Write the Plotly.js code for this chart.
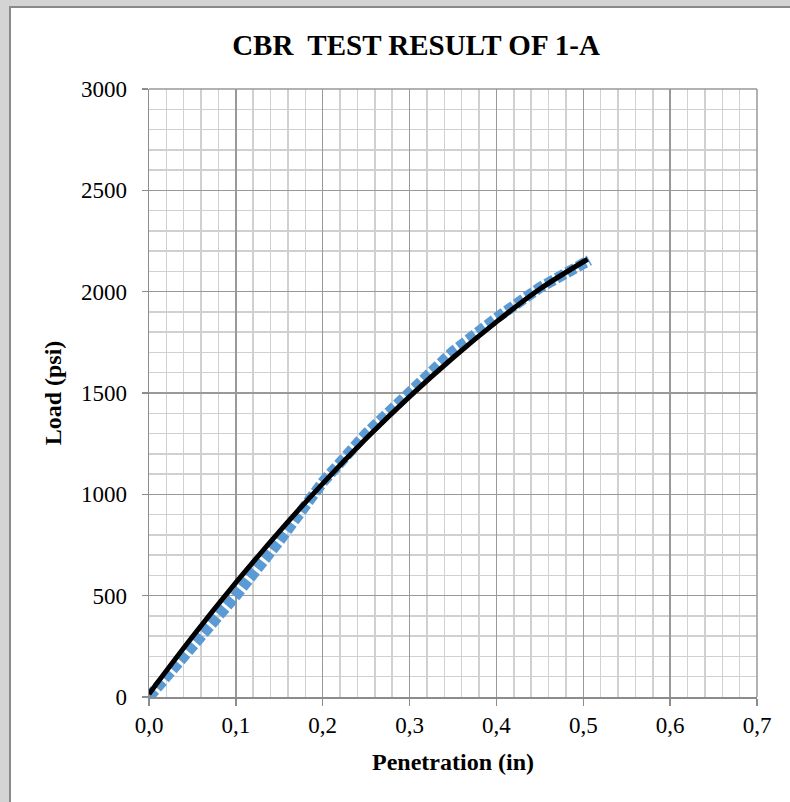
<!DOCTYPE html>
<html>
<head>
<meta charset="utf-8">
<script src="https://cdn.plot.ly/plotly-3.0.1.min.js"></script>
<style>
  html, body { margin: 0; padding: 0; }
  body { width: 790px; height: 802px; background: #d4d4d4; position: relative; overflow: hidden; }
  #frame { position: absolute; left: 9px; top: 6px; width: 781px; height: 796px; background: #fff;
           border-left: 2px solid #8a8a8a; border-top: 2px solid #8a8a8a; }
  #chart { position: absolute; left: 0; top: 0; width: 779px; height: 794px; }
</style>
</head>
<body>
<div id="frame"><div id="chart"></div></div>
<script>
// Measured CBR data (penetration in inches, load in psi)
const penetration = [0, 0.05, 0.1, 0.15, 0.2, 0.25, 0.3, 0.35, 0.4, 0.45, 0.507];
const load        = [0, 240, 500, 770, 1060, 1300, 1505, 1705, 1870, 2020, 2155];

// Trendline
const trendX = [0, 0.05, 0.1, 0.15, 0.2, 0.25, 0.3, 0.35, 0.4, 0.45, 0.505];
const trendY = [15, 297, 564, 816, 1053, 1275, 1482, 1674, 1851, 2013, 2160];

const xTicks = [0, 0.1, 0.2, 0.3, 0.4, 0.5, 0.6, 0.7];
const yTicks = [0, 500, 1000, 1500, 2000, 2500, 3000];

const serif = "Liberation Serif, Times New Roman, serif";

const traces = [
  {
    x: penetration, y: load, type: 'scatter', mode: 'lines',
    line: { color: '#5B9BD5', width: 11, dash: '9px,3px' },
    hoverinfo: 'skip', showlegend: false
  },
  {
    x: trendX, y: trendY, type: 'scatter', mode: 'lines',
    line: { color: '#000000', width: 5, shape: 'spline' },
    hoverinfo: 'skip', showlegend: false
  }
];

const layout = {
  width: 779, height: 794,
  margin: { l: 138, r: 33, t: 81, b: 105 },
  paper_bgcolor: '#ffffff', plot_bgcolor: '#ffffff',
  separators: ', ',
  font: { family: serif, color: '#000' },
  title: {
    text: '<b>CBR  TEST RESULT OF 1-A</b>',
    font: { family: serif, size: 29, color: '#000' },
    xref: 'container', x: 405 / 779, xanchor: 'center',
    yref: 'container', y: 1 - 37 / 794, yanchor: 'middle'
  },
  xaxis: {
    range: [0, 0.7], tickvals: xTicks, tickformat: '.1f',
    showline: true, linecolor: '#8c8c8c', linewidth: 1.5,
    ticks: 'outside', ticklen: 7, tickcolor: '#8c8c8c', tickwidth: 1.5,
    showgrid: true, gridcolor: '#999999', gridwidth: 1.5,
    minor: { dtick: 0.02, showgrid: true, gridcolor: '#d0d0d0', gridwidth: 1.5 },
    zeroline: false,
    tickfont: { family: serif, size: 23, color: '#000' },
    title: { text: '<b>Penetration (in)</b>', font: { family: serif, size: 24, color: '#000' }, standoff: 16 },
    fixedrange: true
  },
  yaxis: {
    range: [0, 3000], tickvals: yTicks,
    showline: true, linecolor: '#8c8c8c', linewidth: 1.5,
    ticks: 'outside', ticklen: 6, tickcolor: '#8c8c8c', tickwidth: 1.5,
    showgrid: true, gridcolor: '#999999', gridwidth: 1.5,
    minor: { dtick: 100, showgrid: true, gridcolor: '#d0d0d0', gridwidth: 1.5 },
    zeroline: false,
    tickfont: { family: serif, size: 23, color: '#000' },
    ticklabelstandoff: 10,
    title: { text: '<b>Load (psi)</b>', font: { family: serif, size: 24, color: '#000' }, standoff: 12 },
    fixedrange: true
  },
  shapes: [
    { type: 'line', xref: 'paper', yref: 'paper', x0: 1, x1: 1, y0: 0, y1: 1, line: { color: '#999999', width: 1.5 } },
    { type: 'line', xref: 'paper', yref: 'paper', x0: 0, x1: 1, y0: 1, y1: 1, line: { color: '#999999', width: 1.5 } }
  ]
};

Plotly.newPlot('chart', traces, layout, { displayModeBar: false, staticPlot: true });
</script>
</body>
</html>
